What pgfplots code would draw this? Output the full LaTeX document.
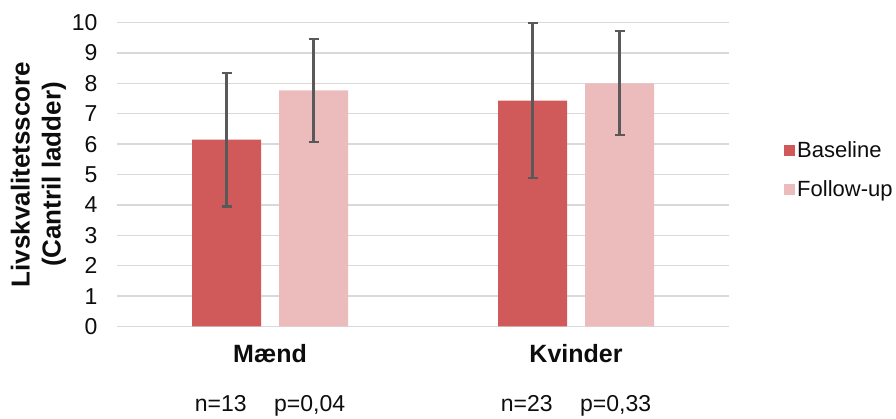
\documentclass[border=0pt]{standalone}
\usepackage{fontspec}
\setmainfont{Liberation Sans}
\usepackage{pgfplots}
\pgfplotsset{compat=1.18}
\definecolor{basecol}{RGB}{208,90,89}
\definecolor{followcol}{RGB}{236,187,187}
\definecolor{gridgray}{RGB}{217,217,217}
\definecolor{errgray}{RGB}{89,89,89}
\definecolor{txt}{RGB}{13,13,13}
\begin{document}
\begin{tikzpicture}
\begin{axis}[
  scale only axis, width=612pt, height=304pt,
  ybar, bar width=69pt,
  xmin=-0.5, xmax=1.5, ymin=0, ymax=10,
  xtick={0,1},
  xticklabels={{Mænd},{Kvinder}},
  x tick label style={font=\fontsize{25}{30}\selectfont\bfseries, text=txt, yshift=-14pt},
  extra x ticks={0,1},
  extra x tick labels={{\mdseries\fontsize{23}{27}\selectfont n=13\hspace{1.2em}p=0,04},{\mdseries\fontsize{23}{27}\selectfont n=23\hspace{1.2em}p=0,33}},
  extra x tick style={tick label style={yshift=-51pt}},
  ytick={0,1,...,10},
  y tick label style={font=\fontsize{23}{27}\selectfont, text=txt, xshift=-16pt},
  /pgf/number format/assume math mode=true,
  ymajorgrids, grid style={draw=gridgray, line width=1.5pt},
  axis line style={draw=none}, major tick length=0pt,
  ylabel={Livskvalitetsscore\\(Cantril ladder)},
  ylabel style={font=\fontsize{26}{31}\selectfont\bfseries, align=center, text=txt,
    at={(axis description cs:-0.1284,0.5)}, anchor=center},
  legend style={at={(axis description cs:1,0.5)}, anchor=west, xshift=55pt, yshift=4.5pt,
    draw=none, fill=none, inner sep=0pt, font=\fontsize{22}{26}\selectfont, text=txt,
    row sep=18pt, legend cell align=left},
  legend image code/.code={\fill[#1] (0pt,-5.5pt) rectangle (11pt,5.5pt);},
]
\addplot[fill=basecol, draw=none, bar shift=-43.5pt,
  error bars/.cd, y dir=both, y explicit, error mark=|,
  error bar style={line width=2.2pt, draw=errgray},
  error mark options={line width=2.2pt, draw=errgray, mark size=5pt}]
  coordinates {(0,6.15) +- (0,2.2) (1,7.43) +- (0,2.55)};
\addplot[fill=followcol, draw=none, bar shift=43.5pt,
  error bars/.cd, y dir=both, y explicit, error mark=|,
  error bar style={line width=2.2pt, draw=errgray},
  error mark options={line width=2.2pt, draw=errgray, mark size=5pt}]
  coordinates {(0,7.77) +- (0,1.7) (1,8.0) +- (0,1.71)};
\legend{Baseline,Follow-up}
\coordinate (ll) at (rel axis cs:0,0);
\end{axis}
\pgfresetboundingbox
\path (ll) ++(-117pt,-92.5pt) rectangle ++(896pt,419pt);
\end{tikzpicture}
\end{document}
